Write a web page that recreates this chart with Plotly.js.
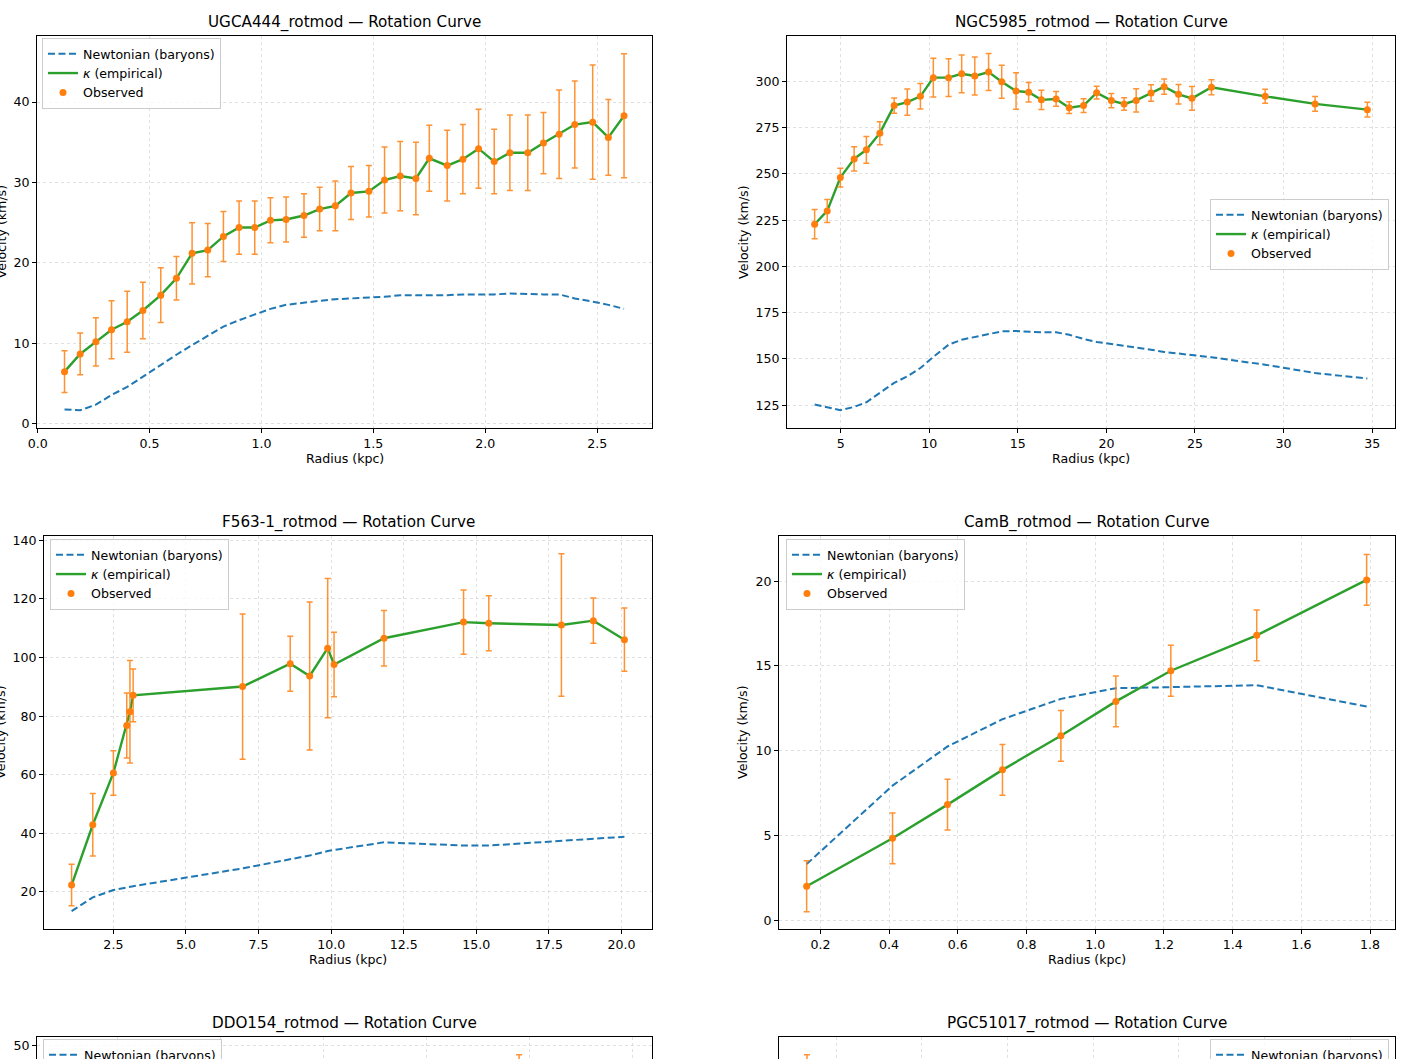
<!DOCTYPE html>
<html>
<head>
<meta charset="utf-8">
<script src="https://cdn.plot.ly/plotly-3.0.1.min.js"></script>
<style>
	html, body { margin: 0; padding: 0; overflow: hidden; background: #fff; }
	#fig { width: 1413px; height: 1500px; }
</style>
</head>
<body>
<div id="fig"></div>
<script>
// UGCA444
var ugca444_r = [0.12, 0.19, 0.26, 0.33, 0.40, 0.47, 0.55, 0.62, 0.69, 0.76, 0.83, 0.90, 0.97, 1.04, 1.11, 1.19, 1.26, 1.33,
	1.40, 1.48, 1.55, 1.62, 1.69, 1.75, 1.83, 1.90, 1.97, 2.04, 2.11, 2.19, 2.26, 2.33, 2.40, 2.48, 2.55, 2.62];
var ugca444_vobs = [6.5, 8.7, 10.2, 11.7, 12.7, 14.1, 16.0, 18.1, 21.2, 21.6, 23.3, 24.4, 24.4, 25.3, 25.4, 25.9, 26.7, 27.1,
	28.7, 28.9, 30.3, 30.8, 30.5, 33.0, 32.1, 32.9, 34.2, 32.6, 33.7, 33.7, 34.9, 36.0, 37.2, 37.5, 35.6, 38.3];
var ugca444_err = [2.6, 2.6, 3.0, 3.6, 3.8, 3.5, 3.4, 2.7, 3.8, 3.3, 3.1, 3.3, 3.3, 2.8, 2.8, 2.7, 2.7, 3.1,
	3.3, 3.2, 4.1, 4.3, 4.5, 4.1, 4.4, 4.3, 4.9, 4.0, 4.7, 4.7, 3.8, 5.5, 5.4, 7.1, 4.7, 7.7];
var ugca444_newton = [1.8, 1.7, 2.4, 3.6, 4.6, 5.9, 7.3, 8.6, 9.8, 10.9, 12.1, 12.9, 13.6, 14.3, 14.8, 15.1, 15.3, 15.5,
	15.6, 15.7, 15.8, 16.0, 16.0, 16.0, 16.0, 16.1, 16.1, 16.1, 16.2, 16.1, 16.1, 16.1, 15.6, 15.2, 14.8, 14.3];
var ugca444_kappa = ugca444_vobs;

// NGC5985
var ngc5985_r = [3.53, 4.24, 4.98, 5.76, 6.45, 7.21, 8.02, 8.76, 9.50, 10.23, 11.09, 11.83, 12.57, 13.35, 14.09, 14.90, 15.61,
	16.33, 17.16, 17.90, 18.71, 19.45, 20.28, 21.00, 21.68, 22.52, 23.26, 24.07, 24.83, 25.93, 28.96, 31.78, 34.73];
var ngc5985_vobs = [222.8, 230.0, 248.0, 258.1, 263.0, 272.0, 286.9, 288.8, 291.9, 302.0, 302.0, 304.1, 302.9, 305.0, 299.8, 294.8, 294.1,
	290.0, 290.5, 285.8, 286.9, 293.9, 289.6, 287.8, 289.7, 293.7, 297.1, 293.0, 290.8, 296.8, 291.9, 287.8, 284.7];
var ngc5985_err = [7.9, 6.2, 5.1, 6.5, 7.2, 6.2, 4.1, 7.1, 6.9, 10.5, 10.2, 10.2, 10.3, 10.0, 8.9, 9.9, 5.3,
	5.2, 4.0, 3.2, 3.7, 3.4, 3.8, 3.4, 6.3, 4.4, 4.1, 5.3, 6.4, 4.1, 3.8, 4.0, 4.0];
var ngc5985_newton = [125.4, 123.8, 122.3, 124.1, 126.6, 131.7, 137.1, 140.6, 145.1, 151.1, 157.7, 160.4, 161.9, 163.7, 164.9, 165.1, 164.7,
	164.4, 164.4, 163.1, 160.8, 159.2, 158.1, 157.2, 156.3, 155.0, 153.8, 152.9, 152.2, 150.9, 146.9, 142.4, 139.4];
var ngc5985_kappa = ngc5985_vobs;

// F563-1
var f563_r = [1.06, 1.79, 2.50, 2.96, 3.07, 3.18, 6.95, 8.59, 9.26, 9.88, 10.10, 11.82, 14.56, 15.43, 17.93, 19.03, 20.10];
var f563_vobs = [22.3, 42.9, 60.6, 76.8, 81.5, 87.1, 90.1, 97.9, 93.7, 103.2, 97.6, 106.6, 112.1, 111.7, 111.1, 112.6, 106.1];
var f563_err = [7.1, 10.7, 7.6, 11.1, 17.5, 9.0, 24.8, 9.4, 25.3, 23.8, 11.0, 9.5, 11.0, 9.4, 24.3, 7.7, 10.8];
var f563_newton = [13.4, 18.1, 20.6, 21.5, 21.7, 21.9, 28.0, 31.1, 32.4, 33.9, 34.3, 36.9, 35.8, 35.8, 37.4, 38.2, 38.8];
var f563_kappa = f563_vobs;

// CamB
var camb_r = [0.16, 0.41, 0.57, 0.73, 0.90, 1.06, 1.22, 1.47, 1.79];
var camb_vobs = [2.0, 4.83, 6.82, 8.87, 10.88, 12.91, 14.72, 16.81, 20.08];
var camb_err = [1.5, 1.5, 1.5, 1.5, 1.5, 1.5, 1.5, 1.5, 1.5];
var camb_newton = [3.31, 7.94, 10.25, 11.86, 13.06, 13.69, 13.75, 13.87, 12.61];
var camb_kappa = camb_vobs;

// DDO154
var ddo154_r = [0.49, 0.98, 1.47, 1.96, 2.45, 2.94, 3.43, 3.92, 4.41, 4.90, 5.39, 5.92];
var ddo154_vobs = [13.8, 21.2, 26.0, 30.5, 34.9, 38.4, 41.3, 43.5, 45.2, 47.0, 44.5, 43.0];
var ddo154_err = [1.7, 2.0, 2.1, 2.2, 2.3, 2.2, 2.1, 2.0, 1.9, 1.9, 1.5, 1.8];
var ddo154_newton = [4.5, 7.8, 10.0, 11.6, 12.7, 13.4, 13.8, 13.9, 13.8, 13.6, 13.3, 13.0];
var ddo154_kappa = ddo154_vobs;

// PGC51017
var pgc51017_r = [0.33, 0.66, 0.99, 1.32, 1.65, 1.98, 2.31, 2.64, 2.97, 3.30, 3.60];
var pgc51017_vobs = [22.0, 18.5, 17.0, 17.8, 18.5, 19.2, 19.6, 20.0, 20.3, 20.5, 20.4];
var pgc51017_err = [5.5, 3.0, 2.5, 2.2, 2.0, 2.0, 2.0, 2.1, 2.2, 2.3, 2.5];
var pgc51017_newton = [6.5, 9.8, 11.5, 12.2, 12.5, 12.4, 12.2, 11.9, 11.6, 11.3, 11.0];
var pgc51017_kappa = pgc51017_vobs;

var names = ["UGCA444_rotmod", "NGC5985_rotmod", "F563-1_rotmod", "CamB_rotmod", "DDO154_rotmod", "PGC51017_rotmod"];
var radii = [ugca444_r, ngc5985_r, f563_r, camb_r, ddo154_r, pgc51017_r];
var vobs = [ugca444_vobs, ngc5985_vobs, f563_vobs, camb_vobs, ddo154_vobs, pgc51017_vobs];
var verr = [ugca444_err, ngc5985_err, f563_err, camb_err, ddo154_err, pgc51017_err];
var vnewton = [ugca444_newton, ngc5985_newton, f563_newton, camb_newton, ddo154_newton, pgc51017_newton];
var vkappa = [ugca444_kappa, ngc5985_kappa, f563_kappa, camb_kappa, ddo154_kappa, pgc51017_kappa];

// axis settings
var x_ranges = [[-0.003, 2.745], [1.97, 36.29], [0.11, 21.05], [0.0795, 1.8725], [0.22, 6.19], [0.167, 3.76]];
var y_ranges = [[-0.5, 48.2], [112.7, 324.5], [7.3, 141.5], [-0.52, 22.67], [2.28, 51.12], [5.45, 28.55]];
var x_dticks = [0.5, 5, 2.5, 0.2, 1, 0.5];
var x_formats = [".1f", "d", ".1f", ".1f", "d", ".1f"];
var y_dticks = [10, 25, 20, 5, 10, 5];

// pixel boxes [left, top, right, bottom]
const W = 1413, H = 1500, VIEW_H = 1059;
var boxes = [
	[37, 36, 652, 428], [787, 36, 1395, 428],
	[44, 536, 652, 929], [779, 536, 1395, 929],
	[37, 1037, 652, 1429], [779, 1037, 1395, 1429]
];
var ylabel_x = [0.5, 743, 0.5, 742.5, 0.5, 742.5];
// legend anchor [x, y, side]
var legend_pos = [[42, 38, "left"], [1389, 199, "right"], [50, 539, "left"], [786, 539, "left"], [43, 1039, "left"], [1389, 1039, "right"]];

var font_family = "DejaVu Sans, Liberation Sans, sans-serif";
var small = 12.6;
var big = 15.2;

function fx(p) { return p / W; }
function fy(p) { return 1 - p / H; }

// the bottom row runs off the page: only keep the y ticks that land inside it
function visible_ticks(i)
{
	var b = boxes[i];
	var lo = y_ranges[i][0], hi = y_ranges[i][1];
	var vals = [];
	for (var v = Math.ceil(lo / y_dticks[i]) * y_dticks[i]; v <= hi; v += y_dticks[i])
	{
		var p = b[1] + (hi - v) / (hi - lo) * (b[3] - b[1]);
		if (p < VIEW_H - 8)
			vals.push(v);
	}
	return vals;
}

function make_plot()
{
	var traces = [];
	var layout =
	{
		width: W,
		height: H,
		margin: {l: 0, r: 0, t: 0, b: 0},
		paper_bgcolor: "#ffffff",
		plot_bgcolor: "#ffffff",
		font: {family: font_family, size: small, color: "#000000"},
		annotations: []
	};

	for (var i = 0; i < names.length; i++)
	{
		var n = i == 0 ? "" : String(i + 1);
		var lg = "legend" + n;
		var b = boxes[i];
		var cut = b[3] > VIEW_H;

		traces.push({
			type: "scatter", mode: "lines", name: "Newtonian (baryons)",
			x: radii[i], y: vnewton[i], xaxis: "x" + n, yaxis: "y" + n, legend: lg,
			line: {color: "#1f77b4", width: 2, dash: "7px,3.5px"}
		});
		traces.push({
			type: "scatter", mode: "lines", name: "<i>κ</i> (empirical)",
			x: radii[i], y: vkappa[i], xaxis: "x" + n, yaxis: "y" + n, legend: lg,
			line: {color: "#2ca02c", width: 2.4}
		});
		traces.push({
			type: "scatter", mode: "markers", name: "Observed",
			x: radii[i], y: vobs[i], xaxis: "x" + n, yaxis: "y" + n, legend: lg,
			marker: {color: "#ff7f0e", size: 7},
			error_y: {type: "data", array: verr[i], visible: true, color: "rgba(255,127,14,0.85)", thickness: 1.5, width: 3}
		});

		var common =
		{
			showline: true, mirror: true, linecolor: "#000000", linewidth: 1,
			ticks: "outside", ticklen: 4, tickwidth: 1, tickcolor: "#000000",
			tickfont: {family: font_family, size: small, color: "#000000"},
			showgrid: true, gridcolor: "#d8d8d8", gridwidth: 0.8, griddash: "dot",
			zeroline: false
		};

		layout["xaxis" + n] = Object.assign({}, common, {
			domain: [fx(b[0]), fx(b[2])], anchor: "y" + n,
			range: x_ranges[i], tick0: 0, dtick: x_dticks[i], tickformat: x_formats[i],
			showticklabels: !cut
		});
		var yaxis = Object.assign({}, common, {
			domain: [fy(b[3]), fy(b[1])], anchor: "x" + n,
			range: y_ranges[i], tick0: 0, dtick: y_dticks[i]
		});
		if (cut)
		{
			yaxis.tickmode = "array";
			yaxis.tickvals = visible_ticks(i);
		}
		layout["yaxis" + n] = yaxis;

		var lp = legend_pos[i];
		layout[lg] =
		{
			x: fx(lp[0]), y: fy(lp[1]), xanchor: lp[2], yanchor: "top",
			bgcolor: "rgba(255,255,255,0.8)", bordercolor: "#cccccc", borderwidth: 1,
			font: {family: font_family, size: small, color: "#000000"},
			itemwidth: 30, tracegroupgap: 0
		};

		var cx = (b[0] + b[2]) / 2;
		layout.annotations.push({
			text: names[i] + " — Rotation Curve", xref: "paper", yref: "paper",
			x: fx(cx), y: fy(b[1] - 14), xanchor: "center", yanchor: "middle",
			showarrow: false, font: {family: font_family, size: big, color: "#000000"}
		});
		if (cut)
			continue;
		layout.annotations.push({
			text: "Radius (kpc)", xref: "paper", yref: "paper",
			x: fx(cx), y: fy(b[3] + 30), xanchor: "center", yanchor: "middle",
			showarrow: false, font: {family: font_family, size: small, color: "#000000"}
		});
		layout.annotations.push({
			text: "Velocity (km/s)", xref: "paper", yref: "paper", textangle: -90,
			x: fx(ylabel_x[i]), y: fy((b[1] + b[3]) / 2), xanchor: "center", yanchor: "middle",
			showarrow: false, font: {family: font_family, size: small, color: "#000000"}
		});
	}

	Plotly.newPlot("fig", traces, layout, {displayModeBar: false, staticPlot: true});
}

make_plot();
</script>
</body>
</html>
